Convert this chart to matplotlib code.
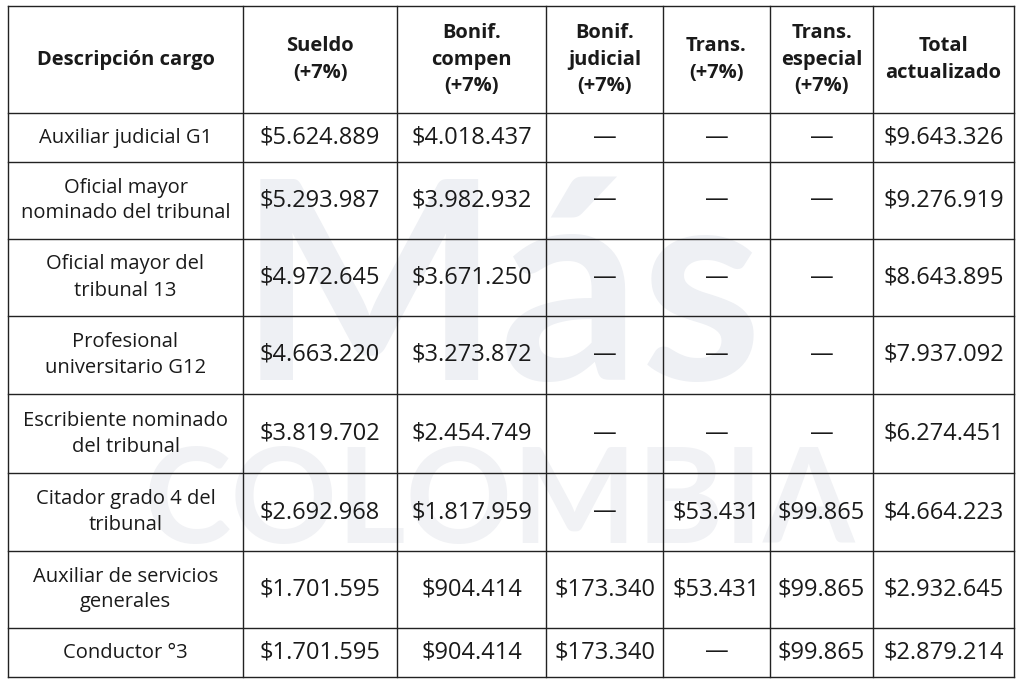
import matplotlib
matplotlib.use("Agg")
import matplotlib.pyplot as plt

headers = ["Descripción cargo", "Sueldo\n(+7%)", "Bonif.\ncompen\n(+7%)", "Bonif.\njudicial\n(+7%)",
           "Trans.\n(+7%)", "Trans.\nespecial\n(+7%)", "Total\nactualizado"]
cargos = ["Auxiliar judicial G1", "Oficial mayor\nnominado del tribunal", "Oficial mayor del\ntribunal 13",
          "Profesional\nuniversitario G12", "Escribiente nominado\ndel tribunal", "Citador grado 4 del\ntribunal",
          "Auxiliar de servicios\ngenerales", "Conductor °3"]
sueldo = ["$5.624.889", "$5.293.987", "$4.972.645", "$4.663.220", "$3.819.702", "$2.692.968", "$1.701.595", "$1.701.595"]
bonif_compen = ["$4.018.437", "$3.982.932", "$3.671.250", "$3.273.872", "$2.454.749", "$1.817.959", "$904.414", "$904.414"]
bonif_judicial = ["—", "—", "—", "—", "—", "—", "$173.340", "$173.340"]
trans = ["—", "—", "—", "—", "—", "$53.431", "$53.431", "—"]
trans_especial = ["—", "—", "—", "—", "—", "$99.865", "$99.865", "$99.865"]
total = ["$9.643.326", "$9.276.919", "$8.643.895", "$7.937.092", "$6.274.451", "$4.664.223", "$2.932.645", "$2.879.214"]

cols = [cargos, sueldo, bonif_compen, bonif_judicial, trans, trans_especial, total]
xs = [8, 243, 397, 546, 663, 770, 873, 1014]
ys = [6, 113, 162, 239, 316, 394, 473, 551, 628, 677]

fig = plt.figure(figsize=(10.24, 6.83), dpi=100)
ax = fig.add_axes([0, 0, 1, 1])
ax.set_xlim(0, 1024); ax.set_ylim(683, 0); ax.axis("off")

# watermark
ax.text(500, 300, "Más", fontsize=200, fontweight="bold", color="#eef0f4", ha="center", va="center",
        family="Lato", zorder=0)
ax.text(500, 505, "COLOMBIA", fontsize=95, fontweight="bold", color="#f1f2f5", ha="center", va="center",
        family="Lato", zorder=0)

for x in xs:
    ax.plot([x, x], [ys[0], ys[-1]], color="#222222", lw=1, zorder=2)
for y in ys:
    ax.plot([xs[0], xs[-1]], [y, y], color="#222222", lw=1, zorder=2)

fp = dict(family="Open Sans", color="#1a1a1a", ha="center", va="center", zorder=3)
for j, h in enumerate(headers):
    ax.text((xs[j] + xs[j+1]) / 2, (ys[0] + ys[1]) / 2, h, fontsize=14.5, fontweight="bold",
            linespacing=1.45, **fp)
for j, col in enumerate(cols):
    for i, v in enumerate(col):
        ax.text((xs[j] + xs[j+1]) / 2, (ys[i+1] + ys[i+2]) / 2, v, fontsize=17 if j else 14.5,
                linespacing=1.4, **fp)

fig.savefig("out.png", dpi=100, facecolor="white")
